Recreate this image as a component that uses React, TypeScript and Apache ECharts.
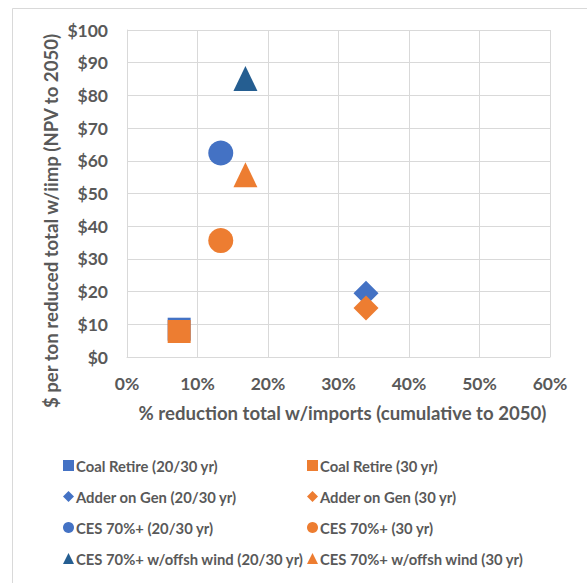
import React, { useEffect, useRef } from "react";
import * as echarts from "echarts";

const seriesNames = [
  "Coal Retire (20/30 yr)",
  "Coal Retire (30 yr)",
  "Adder on Gen (20/30 yr)",
  "Adder on Gen (30 yr)",
  "CES 70%+ (20/30 yr)",
  "CES 70%+ (30 yr)",
  "CES 70%+ w/offsh wind (20/30 yr)",
  "CES 70%+ w/offsh wind (30 yr)",
];
// x: % reduction (fraction), y: $ per ton
const xValues = [0.074, 0.074, 0.339, 0.339, 0.133, 0.133, 0.168, 0.168];
const yValues = [8.5, 7.8, 19.5, 15.0, 62.4, 35.6, 85.2, 55.7];
const seriesColors = ["#4472C4", "#ED7D31", "#4472C4", "#ED7D31", "#4472C4", "#ED7D31", "#255E91", "#ED7D31"];
const seriesSymbols = ["rect", "rect", "diamond", "diamond", "circle", "circle", "triangle", "triangle"];
const symbolSizes: any[] = [23, 23, 25, 25, 25, 25, [24, 25], [24, 25]];

const xTitle = "% reduction total w/imports (cumulative to 2050)";
const yTitle = "$ per ton reduced total w/iimp (NPV to 2050)";

const TXT = "#595959";
const GRID = "#D9D9D9";
const FONT = "Lato";

export default function App() {
  const ref = useRef<HTMLDivElement>(null);
  useEffect(() => {
    document.body.style.margin = "0";
    const chart = echarts.init(ref.current!, null, { renderer: "svg" });
    const series = seriesNames.map((name, i) => ({
      name,
      type: "scatter",
      data: [[xValues[i], yValues[i]]],
      symbol: seriesSymbols[i],
      symbolSize: symbolSizes[i],
      itemStyle: { color: seriesColors[i], opacity: 1 },
      emphasis: { disabled: true },
    }));
    const legendCommon = {
      orient: "vertical",
      top: 458,
      padding: 0,
      itemWidth: 11,
      itemHeight: 11,
      itemGap: 16,
      textStyle: { color: TXT, fontFamily: FONT, fontWeight: "bold", fontSize: 14.8, lineHeight: 15, padding: [0, 0, 0, -3] },
      selectedMode: false,
    };
    chart.setOption({
      animation: false,
      backgroundColor: "#ffffff",
      graphic: [
        {
          type: "rect",
          shape: { x: 12.5, y: 8.5, width: 600, height: 600 },
          style: { fill: "none", stroke: GRID, lineWidth: 1 },
          silent: true,
        },
        {
          type: "text",
          x: 51,
          y: 221,
          rotation: Math.PI / 2,
          style: {
            text: yTitle,
            fill: TXT,
            font: `bold 18.6px ${FONT}`,
            textAlign: "center",
            textVerticalAlign: "middle",
          },
          silent: true,
        },
      ],
      legend: [
        { ...legendCommon, left: 63, data: seriesNames.filter((_, i) => i % 2 === 0) },
        { ...legendCommon, left: 307, data: seriesNames.filter((_, i) => i % 2 === 1) },
      ],
      grid: { left: 127, right: 37, top: 30, bottom: 226, containLabel: false },
      xAxis: {
        type: "value",
        min: 0,
        max: 0.6,
        interval: 0.1,
        name: xTitle,
        nameLocation: "middle",
        nameGap: 46,
        nameTextStyle: { color: TXT, fontFamily: FONT, fontWeight: "bold", fontSize: 18.6, padding: [0, 0, 0, 8] },
        axisLine: { show: true, lineStyle: { color: GRID, width: 1 } },
        axisTick: { show: false },
        splitLine: { show: true, lineStyle: { color: GRID, width: 1 } },
        axisLabel: {
          color: TXT,
          fontFamily: FONT,
          fontWeight: "bold",
          fontSize: 17.5,
          margin: 17,
          formatter: (v: number) => `${Math.round(v * 100)}%`,
        },
      },
      yAxis: {
        type: "value",
        min: 0,
        max: 100,
        interval: 10,
        axisLine: { show: true, lineStyle: { color: GRID, width: 1 } },
        axisTick: { show: false },
        splitLine: { show: true, lineStyle: { color: GRID, width: 1 } },
        axisLabel: {
          color: TXT,
          fontFamily: FONT,
          fontWeight: "bold",
          fontSize: 17.5,
          margin: 19,
          formatter: (v: number) => `$${v}`,
        },
      },
      series,
    });
    return () => chart.dispose();
  }, []);
  return <div ref={ref} style={{ width: 587, height: 583 }} />;
}
